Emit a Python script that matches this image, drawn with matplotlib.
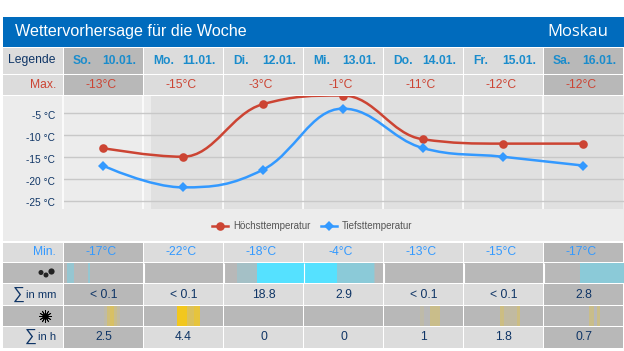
import matplotlib
matplotlib.use("Agg")
import matplotlib.pyplot as plt
from matplotlib.lines import Line2D
from matplotlib.patches import PathPatch, Rectangle
from matplotlib.path import Path
from matplotlib.colors import to_rgb
from matplotlib.transforms import ScaledTranslation

# ---------- data ----------
title = "Wettervorhersage für die Woche"
city = "Moskau"
day_names = ["So.", "Mo.", "Di.", "Mi.", "Do.", "Fr.", "Sa."]
dates = ["10.01.", "11.01.", "12.01.", "13.01.", "14.01.", "15.01.", "16.01."]
max_temps = [-13, -15, -3, -1, -11, -12, -12]
min_temps = [-17, -22, -18, -4, -13, -15, -17]
rain_labels = ["< 0.1", "< 0.1", "18.8", "2.9", "< 0.1", "< 0.1", "2.8"]
sun_labels = ["2.5", "4.4", "0", "0", "1", "1.8", "0.7"]
y_ticks = [-5, -10, -15, -20, -25]
# (day index, start hour, end hour, intensity 0..1)
rain_hours = [(0, 1, 3, .35), (0, 7.4, 8, .35),
              (2, 4, 10, .2), (2, 10, 24, 1.0),
              (3, 0, 10, 1.0), (3, 10, 21, .45), (3, 21, 21.5, .2),
              (6, 11, 24, .45)]
sun_hours = [(0, 12, 13, .1), (0, 13, 14, .4), (0, 14, 15, .55), (0, 15, 16, .3), (0, 16, 17, .15),
             (1, 10, 13, 1.0), (1, 13, 15, .6), (1, 15, 17, .8),
             (4, 11, 12, .1), (4, 14, 17, .3),
             (5, 11, 12, .35), (5, 12, 16, .15), (5, 16, 17, .35),
             (6, 13.5, 15, .3), (6, 16, 17, .3)]

# ---------- style ----------
W, H = 624, 351
FONT = ["Liberation Sans", "DejaVu Sans"]
BLUE_HEAD = "#006BBD"
CELL_L = "#DCDCDC"
CELL_D = "#B8B8B8"
BAND_L = "#ECECEC"
BAND_D = "#E0E0E0"
RED = "#CC4433"
LBLUE = "#3399FF"
DAYBLUE = "#1A8CCC"
NAVY = "#0F3566"
RAIN = "#55E1FF"
SUN = "#F2C71E"

plt.rcParams["font.family"] = FONT
fig = plt.figure(figsize=(W / 100, H / 100), dpi=100, facecolor="white")
bg = fig.add_axes([0, 0, 1, 1])
bg.set_xlim(0, W)
bg.set_ylim(H, 0)
bg.axis("off")

X0 = 63.5
CW = 80
LEFT = 3


def cell(x0, x1, y0, y1, color, z=1):
    bg.add_patch(Rectangle((x0, y0), x1 - x0, y1 - y0, fc=color, ec="none", lw=0, zorder=z))


def blend(c1, c2, t):
    a, b = to_rgb(c1), to_rgb(c2)
    return tuple(p + (q - p) * t for p, q in zip(a, b))


def col_edges(i):
    x0 = X0 + i * CW
    return x0 + 0.7, min(x0 + CW - 0.7, W)


# Header
cell(LEFT, W, 17, 47, BLUE_HEAD)
bg.text(15, 31.5, title, color="white", fontsize=11.6, va="center", ha="left")
bg.text(608, 32, city, color="white", fontsize=12, va="center", ha="right", family=["Open Sans", "DejaVu Sans"])

rows = {"date": (47.5, 73.7), "max": (74.8, 95), "min": (242.5, 262.3),
        "rain": (263.3, 283.3), "rsum": (284.3, 305), "sun": (306, 326), "ssum": (327, 347.5)}

# Row label column
for key, (a, b) in rows.items():
    cell(LEFT, X0 - 1, a, b, CELL_D if key in ("rain", "sun") else CELL_L)
for key, (a, b) in rows.items():
    for i in range(7):
        x0, x1 = col_edges(i)
        dark = key in ("rain", "sun") or i in (0, 6)
        cell(x0, x1, a, b, CELL_D if dark else CELL_L)

TS = 8.7
bg.text(31.5, 60.5, "Legende", color=NAVY, fontsize=TS, ha="center", va="center")
bg.text(56, 85, "Max.", color=RED, fontsize=TS, ha="right", va="center")
bg.text(56, 252, "Min.", color=LBLUE, fontsize=TS, ha="right", va="center")
bg.text(56, 295, "in mm", color=NAVY, fontsize=8.0, ha="right", va="center")
bg.text(56, 337, "in h", color=NAVY, fontsize=8.0, ha="right", va="center")
bg.text(13, 294.5, "∑", color=NAVY, fontsize=12, ha="left", va="center")
bg.text(25, 336.5, "∑", color=NAVY, fontsize=12, ha="left", va="center")

for i in range(7):
    x0 = X0 + i * CW
    bg.text(x0 + 9.5, 60.5, day_names[i], color=DAYBLUE, fontsize=8.7, fontweight="bold", ha="left", va="center")
    bg.text(x0 + 72.5, 60.5, dates[i], color=DAYBLUE, fontsize=8.7, fontweight="bold", ha="right", va="center")
    bg.text(x0 + 37.5, 85, f"{max_temps[i]}°C", color=RED, fontsize=TS, ha="center", va="center")
    bg.text(x0 + 37.5, 252, f"{min_temps[i]}°C", color=LBLUE, fontsize=TS, ha="center", va="center")
    bg.text(x0 + 40, 295, rain_labels[i], color=NAVY, fontsize=TS, ha="center", va="center")
    bg.text(x0 + 40, 337, sun_labels[i], color=NAVY, fontsize=TS, ha="center", va="center")

# Hourly strips
PX_H = CW / 24
for day, h0, h1, t in rain_hours:
    x0 = X0 + day * CW
    a, b = rows["rain"]
    cell(x0 + h0 * PX_H, x0 + h1 * PX_H, a, b, blend(CELL_D, RAIN, t), z=2)
for day, h0, h1, t in sun_hours:
    x0 = X0 + day * CW
    a, b = rows["sun"]
    cell(x0 + h0 * PX_H, x0 + h1 * PX_H, a, b, blend(CELL_D, SUN, t), z=2)
# Column separators crossing the bright strip
for i in range(1, 7):
    bg.plot([X0 + i * CW] * 2, rows["rain"], color="white", lw=0.8, zorder=3, solid_capstyle="butt")

# Icons
bg.scatter([41, 46, 51.5], [272.5, 275, 271.5], s=[13, 13, 20], c="#222222", marker="o", linewidths=0, zorder=4)
bg.scatter([45], [316], s=20, c="black", marker="o", linewidths=0, zorder=4)
bg.scatter([45], [316], s=75, c="black", marker=(12, 2, 0), linewidths=0.6, zorder=4)

# Chart background
CH_T, CH_B = 96, 209
cell(LEFT, W, CH_T, 241.3, BAND_L)
for i in range(7):
    x0, x1 = col_edges(i)
    if i == 0:
        continue
    cell(x0 + 7 if i == 1 else x0, x1, CH_T, CH_B, BAND_D, z=2)
for i in range(0, 7):
    bg.plot([X0 + i * CW - 0.3] * 2, [CH_T, CH_B - 0.5], color="white", lw=1.1, zorder=3, solid_capstyle="butt")

# Chart axes
px_per_deg = 4.375
y_top = -5 + (113 - CH_T) / px_per_deg
y_bot = -5 - (CH_B - 113) / px_per_deg
ax = fig.add_axes([X0 / W, 1 - CH_B / H, (W - 0.5 - X0) / W, (CH_B - CH_T) / H])
ax.patch.set_alpha(0)
ax.set_xlim(-0.49, 6.51)
ax.set_ylim(y_bot, y_top)
for s in ax.spines.values():
    s.set_visible(False)
ax.set_xticks([])
ax.set_yticks(y_ticks)
ax.set_yticklabels([f"{v} °C" for v in y_ticks], fontsize=7.3, color=NAVY)
ax.tick_params(axis="y", length=0, pad=6)
down = ScaledTranslation(0, -2 / 100, fig.dpi_scale_trans)
for lab in ax.get_yticklabels():
    lab.set_transform(lab.get_transform() + down)
ax.yaxis.grid(True, color="#C8C8C8", lw=1)
ax.set_axisbelow(True)


def spline_path(ys):
    """Smooth Bezier through the points, with monotone control points."""
    s = 1.5
    d = s + 1
    n = len(ys)
    verts = [(0, ys[0])]
    codes = [Path.MOVETO]
    prev_r = (0, ys[0])
    for i in range(1, n):
        x, y = i, ys[i]
        lx, ly = i - 1, ys[i - 1]
        if i < n - 1:
            nx, ny = i + 1, ys[i + 1]
            lcx, lcy = (s * x + lx) / d, (s * y + ly) / d
            rcx, rcy = (s * x + nx) / d, (s * y + ny) / d
            corr = (rcy - lcy) * (rcx - x) / (rcx - lcx) + y - rcy
            lcy += corr
            rcy += corr
            if lcy > ly and lcy > y:
                lcy = max(ly, y)
                rcy = 2 * y - lcy
            elif lcy < ly and lcy < y:
                lcy = min(ly, y)
                rcy = 2 * y - lcy
            if rcy > ny and rcy > y:
                rcy = max(ny, y)
                lcy = 2 * y - rcy
            elif rcy < ny and rcy < y:
                rcy = min(ny, y)
                lcy = 2 * y - rcy
        else:
            lcx, lcy = x, y
            rcx, rcy = x, y
        verts += [prev_r, (lcx, lcy), (x, y)]
        codes += [Path.CURVE4] * 3
        prev_r = (rcx, rcy)
    return Path(verts, codes)


days = list(range(7))
LW = 1.8
for ys, col, mk, ms in ((max_temps, RED, "o", 6.2), (min_temps, LBLUE, "D", 4.6)):
    ax.add_patch(PathPatch(spline_path(ys), fc="none", ec=col, lw=LW, capstyle="round", zorder=4))
    ax.plot(days, ys, ls="none", marker=mk, ms=ms, mfc=col, mec=col, mew=0, zorder=5)

handles = [Line2D([], [], color=RED, lw=LW, marker="o", ms=6.2, mew=0),
           Line2D([], [], color=LBLUE, lw=LW, marker="D", ms=4.6, mew=0)]
leg = bg.legend(handles, ["Höchsttemperatur", "Tiefsttemperatur"], loc="center",
                bbox_to_anchor=(312.5, 226), bbox_transform=bg.transData, ncol=2, frameon=False,
                fontsize=7.0, labelcolor="#555555", handlelength=1.65, handletextpad=0.5,
                columnspacing=1.1, borderpad=0, borderaxespad=0)
leg.set_zorder(6)

fig.savefig("out.png", dpi=100, facecolor="white")
